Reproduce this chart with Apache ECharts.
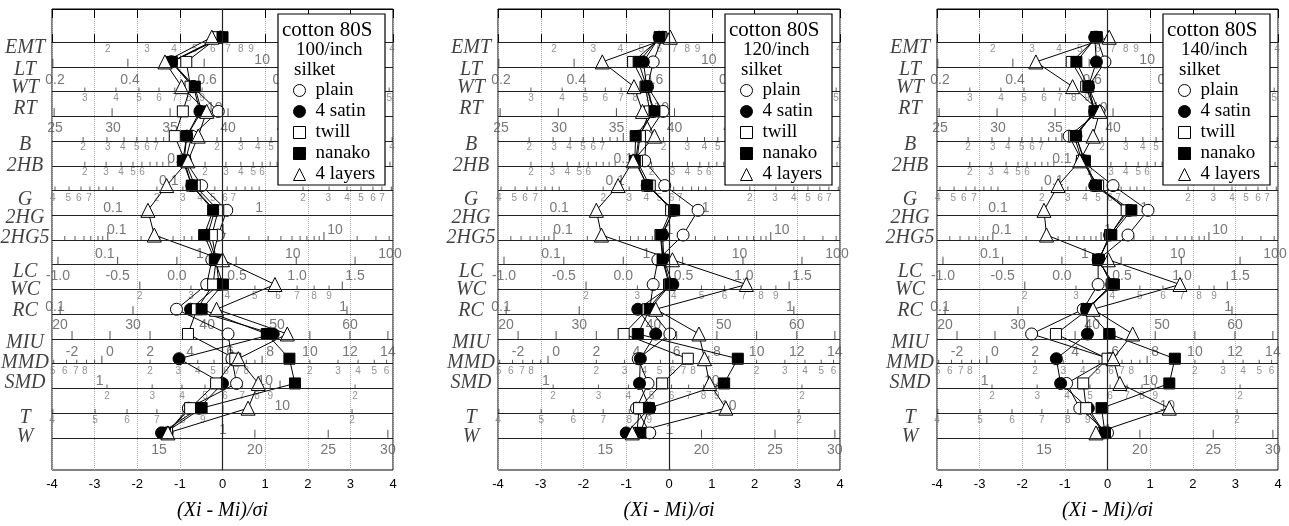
<!DOCTYPE html>
<html>
<head>
<meta charset="utf-8">
<script src="https://cdn.jsdelivr.net/npm/echarts@6/dist/echarts.min.js"></script>
<style>
html, body { margin: 0; padding: 0; background: #fff; }
#main { width: 1289px; height: 526px; }
</style>
</head>
<body>
<div id="main"></div>
<script>
// hand-chart rows, top to bottom
var rows = ['EMT', 'LT', 'WT', 'RT', 'B', '2HB', 'G', '2HG', '2HG5', 'LC', 'WC', 'RC', 'MIU', 'MMD', 'SMD', 'T', 'W'];
var seriesNames = ['plain', '4 satin', 'twill', 'nanako', '4 layers'];
var fabrics = ['100/inch', '120/inch', '140/inch'];

// (Xi - Mi)/σi, one value per row
var plain100  = [-0.05, -1.2, -0.7, -0.1, -0.72, -0.87, -0.49, 0.1, -0.1, -0.25, -0.37, -1.08, 0.13, 0.22, 0.33, -0.8, -1.3];
var satin100  = [-0.05, -1.2, -0.68, -0.53, -0.84, -0.9, -0.72, -0.18, -0.35, -0.15, -0.08, -0.75, 1.19, -1.02, 0.0, -0.55, -1.43];
var twill100  = [-0.1, -0.85, -0.75, -0.93, -1.12, -0.88, -0.65, -0.1, -0.25, -0.15, -0.22, -0.6, -0.81, 0.3, -0.15, -0.76, -1.3];
var nanako100 = [0.0, -1.19, -0.65, -0.49, -0.84, -0.93, -0.72, -0.22, -0.43, -0.18, 0.01, -0.49, 1.04, 1.57, 1.7, -0.49, -1.35];
var layers100 = [-0.25, -1.35, -0.96, -0.37, -0.57, -0.81, -1.31, -1.75, -1.6, 0.0, 1.23, -0.14, 1.52, 0.37, 0.84, 0.6, -1.28];

var plain120  = [-0.15, -0.37, -0.5, -0.14, -0.53, -0.57, -0.1, 0.68, 0.33, -0.26, -0.37, -0.45, 0.02, -0.72, -0.49, -0.76, -0.45];
var satin120  = [-0.23, -0.6, -0.52, -0.37, -0.7, -0.78, -0.51, 0.1, -0.15, -0.12, 0.09, -0.73, -0.31, -0.67, -0.69, -0.45, -1.0];
var twill120  = [-0.18, -0.84, -0.55, -0.45, -0.68, -0.75, -0.45, 0.05, -0.2, -0.15, 0.0, -0.5, -1.06, 0.44, -0.16, -0.7, -0.75];
var nanako120 = [-0.22, -0.71, -0.53, -0.34, -0.78, -0.8, -0.51, 0.12, -0.18, -0.14, 0.03, -0.45, -0.73, 1.61, 1.29, -0.47, -0.67];
var layers120 = [0.03, -1.56, -0.82, -0.62, -0.34, -0.84, -1.19, -1.7, -1.58, 0.08, 1.81, -0.31, 0.7, 0.83, 0.95, 1.33, -0.86];

var plain140  = [-0.25, -0.06, -0.45, -0.2, -0.9, -0.6, 0.13, 0.95, 0.48, -0.22, -0.22, -0.57, -1.78, 0.05, -0.96, -0.65, 0.0];
var satin140  = [-0.3, -0.26, -0.45, -0.3, -0.74, -0.55, -0.3, 0.5, 0.05, -0.2, 0.1, -0.49, -0.47, -1.2, -1.1, -0.45, -0.08];
var twill140  = [-0.25, -0.84, -0.5, -0.3, -0.78, -0.6, -0.22, 0.45, 0.06, -0.2, 0.1, -0.45, -1.21, 0.0, -0.57, -0.5, -0.1];
var nanako140 = [-0.27, -0.73, -0.45, -0.3, -0.74, -0.53, -0.27, 0.56, 0.09, -0.22, 0.15, -0.49, 0.04, 1.58, 1.45, -0.14, -0.06];
var layers140 = [0.04, -1.68, -0.82, -0.18, -0.34, -0.65, -1.16, -1.49, -1.43, 0.02, 1.7, -0.34, 0.59, 0.13, 0.29, 1.45, -0.27];

// property scales printed on the rows: [sigma, row, text]
var smallScaleLabels = [
  [-2.69,0.28,'2'],[-1.77,0.28,'3'],[-1.14,0.28,'4'],[-0.65,0.28,'5'],[-0.23,0.28,'6'],[0.13,0.28,'7'],[0.43,0.28,'8'],[0.67,0.28,'9'],[2.48,0.28,'2'],[3.39,0.28,'3'],[3.98,0.28,'4'],
  [-3.23,2.25,'3'],[-2.5,2.25,'4'],[-1.96,2.25,'5'],[-1.49,2.25,'6'],[-1.12,2.25,'7'],[-0.79,2.25,'8'],[-0.48,2.25,'9'],[1.58,2.25,'2'],[2.62,2.25,'3'],[3.35,2.25,'4'],[3.91,2.25,'5'],
  [-3.27,4.27,'2'],[-2.69,4.27,'3'],[-2.34,4.27,'4'],[-2.01,4.27,'5'],[-1.77,4.27,'6'],[-1.56,4.27,'7'],[-0.13,4.27,'2'],[0.43,4.27,'3'],[0.83,4.27,'4'],[1.14,4.27,'5'],[1.37,4.27,'6'],[1.58,4.27,'7'],[3.02,4.27,'2'],[3.58,4.27,'3'],[3.98,4.27,'4'],
  [-3.23,5.25,'2'],[-2.73,5.25,'3'],[-2.38,5.25,'4'],[-2.1,5.25,'5'],[-1.89,5.25,'6'],[-0.41,5.25,'2'],[0.08,5.25,'3'],[0.43,5.25,'4'],[0.72,5.25,'5'],[0.93,5.25,'6'],[2.41,5.25,'2'],[2.9,5.25,'3'],[3.25,5.25,'4'],[3.53,5.25,'5'],[3.74,5.25,'6'],
  [-3.98,6.32,'4'],[-3.62,6.32,'5'],[-3.37,6.32,'6'],[-3.13,6.32,'7'],[-1.54,6.32,'2'],[-0.93,6.32,'3'],[-0.53,6.32,'4'],[-0.22,6.32,'5'],[0.06,6.32,'6'],[0.25,6.32,'7'],[1.89,6.32,'2'],[2.48,6.32,'3'],[2.92,6.32,'4'],[3.25,6.32,'5'],[3.53,6.32,'6'],[3.74,6.32,'7'],
  [-1.94,10.27,'2'],[-0.74,10.27,'3'],[0.11,10.27,'4'],[0.76,10.27,'5'],[1.3,10.27,'6'],[1.75,10.27,'7'],[2.15,10.27,'8'],[2.5,10.27,'9'],
  [-3.98,13.31,'5'],[-3.7,13.31,'6'],[-3.44,13.31,'7'],[-3.23,13.31,'8'],[-1.7,13.31,'2'],[-1.04,13.31,'3'],[-0.58,13.31,'4'],[-0.22,13.31,'5'],[0.08,13.31,'6'],[0.34,13.31,'7'],[0.56,13.31,'8'],[2.05,13.31,'2'],[2.71,13.31,'3'],[3.18,13.31,'4'],[3.56,13.31,'5'],[3.85,13.31,'6'],
  [-2.71,14.3,'2'],[-1.65,14.3,'3'],[-0.95,14.3,'4'],[-0.41,14.3,'5'],[0.06,14.3,'6'],[0.46,14.3,'7'],[0.81,14.3,'8'],[1.12,14.3,'9'],[3.11,14.3,'2'],
  [-4.0,15.29,'4'],[-2.99,15.29,'5'],[-2.24,15.29,'6'],[-1.54,15.29,'7'],[-0.93,15.29,'8'],[-0.46,15.29,'9'],[3.04,15.29,'2']
];
var bigScaleLabels = [
  [0.93,0.71,'10'],
  [-3.93,1.54,'0.2'],[-2.17,1.54,'0.4'],[-0.36,1.54,'0.6'],[1.4,1.54,'0.8'],[3.1,1.54,'1.0'],
  [-0.18,2.65,'10'],
  [-3.93,3.48,'25'],[-2.57,3.48,'30'],[-1.23,3.48,'35'],[0.13,3.48,'40'],[1.45,3.48,'45'],[2.79,3.48,'50'],
  [-1.07,4.74,'0.1'],[2.08,4.74,'1'],
  [-1.26,5.61,'0.1'],[1.56,5.61,'1'],
  [-2.57,6.72,'0.1'],[0.86,6.72,'1'],
  [-2.48,7.59,'0.1'],[0.01,7.59,'1'],[2.64,7.59,'10'],
  [-2.76,8.57,'0.1'],[-0.53,8.57,'1'],[1.65,8.57,'10'],[3.93,8.57,'100'],
  [-3.86,9.48,'-1.0'],[-2.46,9.48,'-0.5'],[-1.07,9.48,'0.0'],[0.34,9.48,'0.5'],[1.75,9.48,'1.0'],[3.11,9.48,'1.5'],
  [-3.93,10.71,'0.1'],[2.83,10.71,'1'],
  [-3.81,11.46,'20'],[-2.1,11.46,'30'],[-0.36,11.46,'40'],[1.28,11.46,'50'],[2.99,11.46,'60'],
  [-3.53,12.52,'-2'],[-2.64,12.52,'0'],[-1.7,12.52,'2'],[-0.76,12.52,'4'],[0.18,12.52,'6'],[1.12,12.52,'8'],[2.05,12.52,'10'],[2.99,12.52,'12'],[3.88,12.52,'14'],
  [-2.88,13.71,'1'],[1.0,13.71,'10'],
  [1.4,14.7,'10'],
  [0.01,15.69,'1'],
  [-1.49,16.51,'15'],[0.76,16.51,'20'],[2.48,16.51,'25'],[3.88,16.51,'30']
];
// tick marks standing on the row lines: [sigma, line]
var tallTicks = [
  [-3.98,1],[-2.22,1],[-0.43,1],[1.33,1],[3.08,1],
  [-3.95,3],[-2.59,3],[-1.23,3],[0.13,3],[1.45,3],[2.79,3],
  [-1.07,4],[2.08,4],[-2.69,8],[-0.15,8],[2.38,8],
  [-3.86,9],[-2.46,9],[-1.07,9],[0.32,9],[1.73,9],[3.11,9],
  [-1.94,10],[2.81,10],
  [-3.81,11],[-2.1,11],[2.92,11],
  [-3.53,12],[-2.64,12],[-1.7,12],[-0.76,12],[0.18,12],[1.12,12],[2.05,12],[2.99,12],[3.88,12],
  [-2.83,13],[0.93,13],[1.35,14],[0.01,15],
  [0.76,16],[2.48,16],[3.88,16]
];
var shortTicks = [
  [-3.23,2],[-2.5,2],[-1.96,2],[-1.49,2],[-1.12,2],[-0.79,2],[-0.48,2],[1.58,2],[2.62,2],[3.35,2],[3.91,2],
  [-3.27,4],[-2.71,4],[-2.31,4],[-2.01,4],[-1.77,4],[-1.56,4],[-1.38,4],[-1.21,4],[-0.13,4],[0.43,4],[0.83,4],[1.14,4],[1.37,4],[1.58,4],[1.77,4],[1.94,4],[3.02,4],[3.58,4],[3.98,4],
  [-3.23,5],[-2.73,5],[-2.38,5],[-2.1,5],[-1.89,5],[-1.7,5],[-1.54,5],[-1.4,5],[-1.26,5],[-0.41,5],[0.08,5],[0.43,5],[0.72,5],[0.93,5],[1.12,5],[1.28,5],[1.42,5],[1.56,5],[2.41,5],[2.9,5],[3.25,5],[3.53,5],[3.74,5],[3.93,5],
  [-3.93,6],[-3.6,6],[-3.32,6],[-3.11,6],[-2.9,6],[-2.73,6],[-2.57,6],[-1.54,6],[-0.93,6],[-0.5,6],[-0.18,6],[0.11,6],[0.32,6],[0.53,6],[0.69,6],[0.86,6],[1.89,6],[2.5,6],[2.92,6],[3.25,6],[3.53,6],[3.74,6],[3.96,6],
  [-3.7,8],[-3.46,8],[-3.25,8],[-3.09,8],[-2.92,8],[-2.81,8],[-1.91,8],[-1.47,8],[-1.16,8],[-0.9,8],[-0.72,8],[-0.55,8],[-0.39,8],[-0.27,8],[0.62,8],[1.07,8],[1.37,8],[1.63,8],[1.82,8],[1.98,8],[2.15,8],[2.27,8],[3.16,8],[3.6,8],[3.91,8],
  [-0.74,10],[0.11,10],[0.76,10],[1.3,10],[1.75,10],[2.15,10],[2.5,10],
  [-3.96,13],[-3.66,13],[-3.42,13],[-3.19,13],[-3.0,13],[-1.7,13],[-1.04,13],[-0.58,13],[-0.2,13],[0.09,13],[0.34,13],[0.56,13],[0.76,13],[2.05,13],[2.71,13],[3.18,13],[3.56,13],[3.85,13],
  [-2.71,14],[-1.65,14],[-0.95,14],[-0.41,14],[0.06,14],[0.46,14],[0.81,14],[1.12,14],[3.11,14],
  [-3.98,15],[-2.99,15],[-2.24,15],[-1.54,15],[-0.93,15],[-0.46,15],[3.04,15]
];

var panels = [
  [plain100, satin100, twill100, nanako100, layers100],
  [plain120, satin120, twill120, nanako120, layers120],
  [plain140, satin140, twill140, nanako140, layers140]
];

// layout
var gridLeft = [52, 498, 937];
var gridWidth = [341, 342, 341];
var gridTop = 9, gridHeight = 472;
var labelRowPos = [0.24, 1.11, 1.86, 2.69, 4.15, 4.98, 6.36, 7.11, 7.9, 9.28, 10.03, 10.86, 12.17, 12.96, 13.79, 15.17, 15.97];
var markerLift = 0.2;
var symbols = ['circle', 'circle', 'rect', 'rect', 'triangle'];
var fills = ['#fff', '#000', '#fff', '#000', '#fff'];
var sizes = [12, 12, 11, 11, 14];
var serif = '"Liberation Serif", "Times New Roman", serif';
var sans = '"Liberation Sans", Arial, sans-serif';

var myChart = echarts.init(document.getElementById('main'));

var grids = [], xAxes = [], yAxes = [], series = [], legends = [], graphics = [];

var rowMarks = [{ xAxis: 0 }];
rows.forEach(function (r, i) { rowMarks.push({ yAxis: i }); });

function labelItems(list) {
  return list.map(function (d) { return { value: [d[0], d[1]], name: d[2] }; });
}

for (var p = 0; p < 3; p++) {
  grids.push({
    left: gridLeft[p], top: gridTop, width: gridWidth[p], height: gridHeight,
    show: true, borderColor: '#000', borderWidth: 1, backgroundColor: 'transparent'
  });
  xAxes.push({
    gridIndex: p, type: 'value', min: -4, max: 4, interval: 1, position: 'bottom',
    name: '(Xi - Mi)/σi', nameLocation: 'middle', nameGap: 31,
    nameTextStyle: { fontFamily: serif, fontStyle: 'italic', fontSize: 20, color: '#000' },
    axisLine: { show: true, lineStyle: { color: '#000', width: 1 } },
    axisTick: { show: true, inside: true, length: 8, lineStyle: { color: '#000' } },
    axisLabel: { fontFamily: sans, fontSize: 13, color: '#000', margin: 8 },
    splitLine: { show: true, lineStyle: { type: 'dotted', color: '#aaa', width: 1 } }
  });
  xAxes.push({
    gridIndex: p, type: 'value', min: -4, max: 4, interval: 1, position: 'top',
    axisLine: { show: true, lineStyle: { color: '#000', width: 1 } },
    axisTick: { show: true, inside: true, length: 9, lineStyle: { color: '#000' } },
    axisLabel: { show: false },
    splitLine: { show: false }
  });
  yAxes.push({
    gridIndex: p, type: 'value', inverse: true, min: -1.34, max: 17.3, show: false
  });

  var xi = p * 2;
  // row lines + tall ticks
  series.push({
    type: 'scatter', xAxisIndex: xi, yAxisIndex: p, silent: true, clip: false,
    symbol: 'rect', symbolSize: [1, 8], symbolOffset: [0, -4],
    itemStyle: { color: '#222' },
    data: tallTicks,
    markLine: {
      silent: true, symbol: 'none', animation: false,
      label: { show: false },
      lineStyle: { color: '#222', width: 1.2, type: 'solid' },
      data: rowMarks
    }
  });
  series.push({
    type: 'scatter', xAxisIndex: xi, yAxisIndex: p, silent: true, clip: false,
    symbol: 'rect', symbolSize: [1, 4], symbolOffset: [0, -2],
    itemStyle: { color: '#333' },
    data: shortTicks
  });
  series.push({
    type: 'scatter', xAxisIndex: xi, yAxisIndex: p, silent: true, clip: false,
    symbolSize: 0,
    label: { show: true, position: 'inside', formatter: '{b}', fontFamily: sans, fontSize: 10, color: '#777' },
    data: labelItems(smallScaleLabels)
  });
  series.push({
    type: 'scatter', xAxisIndex: xi, yAxisIndex: p, silent: true, clip: false,
    symbolSize: 0,
    label: { show: true, position: 'inside', formatter: '{b}', fontFamily: sans, fontSize: 14, color: '#555' },
    data: labelItems(bigScaleLabels)
  });
  // row names on the left
  series.push({
    type: 'scatter', xAxisIndex: xi, yAxisIndex: p, silent: true, clip: false,
    symbolSize: 0,
    label: {
      show: true, position: 'inside', offset: [-27, 0], formatter: '{b}',
      fontFamily: serif, fontStyle: 'italic', fontSize: 20, color: '#111'
    },
    data: rows.map(function (r, i) { return { value: [-4, labelRowPos[i]], name: r }; })
  });

  panels[p].forEach(function (vals, k) {
    series.push({
      name: seriesNames[k], type: 'line', xAxisIndex: xi, yAxisIndex: p,
      symbol: symbols[k], symbolSize: sizes[k], showAllSymbol: true,
      lineStyle: { color: '#000', width: 1 },
      itemStyle: { color: fills[k], borderColor: '#000', borderWidth: 1 },
      z: 3,
      data: vals.map(function (v, i) { return [v, i - markerLift]; })
    });
  });

  var boxLeft = gridLeft[p] + gridWidth[p] - 115;
  graphics.push({
    type: 'rect', z: 10,
    shape: { x: boxLeft, y: 14, width: 107, height: 171 },
    style: { fill: '#fff', stroke: '#000', lineWidth: 1.2 }
  });
  [['cotton 80S', 4, 30, 21], [fabrics[p], 18, 50, 19], ['silket', 16, 70, 19]].forEach(function (t) {
    graphics.push({
      type: 'text', z: 12, x: boxLeft + t[1], y: t[2],
      style: { text: t[0], font: t[3] + 'px ' + serif, fill: '#000', verticalAlign: 'middle' }
    });
  });
  legends.push({
    left: boxLeft + 15, top: 80, orient: 'vertical', padding: 0, itemGap: 0,
    itemWidth: 12, itemHeight: 12, selectedMode: false, z: 12,
    textStyle: { fontFamily: serif, fontSize: 19, color: '#000', lineHeight: 21, padding: [0, 0, 0, 5] },
    data: seriesNames.map(function (n, k) {
      return { name: n, icon: symbols[k], itemStyle: { color: fills[k], borderColor: '#000', borderWidth: 1 } };
    })
  });
}

var option = {
  animation: false,
  backgroundColor: '#fff',
  grid: grids,
  xAxis: xAxes,
  yAxis: yAxes,
  legend: legends,
  graphic: graphics,
  series: series
};

myChart.setOption(option);
</script>
</body>
</html>
